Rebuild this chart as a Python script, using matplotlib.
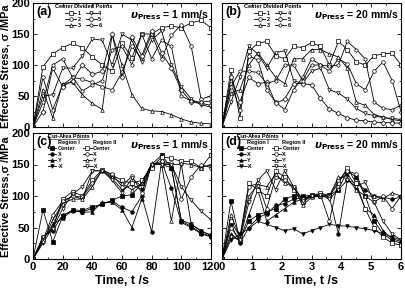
"""
Effective stress vs. time at the center divided points (top row)
and the cut-area points (bottom row), for two press speeds.
"""

import matplotlib
matplotlib.use("Agg")
import matplotlib.pyplot as plt
from matplotlib.lines import Line2D
from matplotlib.ticker import MultipleLocator

plt.rcParams["font.family"] = ["Liberation Sans", "DejaVu Sans"]
plt.rcParams["font.weight"] = "bold"

# Time grids
T_SLOW = [0, 6.7, 13.3, 20, 26.7, 33.3, 40, 46.7, 53.3, 60, 66.7, 73.3,
          80, 86.7, 93.3, 100, 106.7, 113.3, 120]
T_FAST = [0, 0.3, 0.6, 0.9, 1.2, 1.5, 1.8, 2.1, 2.4, 2.7, 3.0, 3.3, 3.6,
          3.9, 4.2, 4.5, 4.8, 5.1, 5.4, 5.7, 6.0]

# (a) center divided points, 1 mm/s
a1 = [0, 97, 118, 128, 135, 128, 113, 100, 90, 135, 112, 150, 150, 160, 163, 160, 168, 172, 160]
a2 = [0, 80, 28, 68, 80, 77, 72, 65, 60, 88, 130, 110, 150, 110, 148, 165, 130, 45, 50]
a3 = [0, 60, 15, 70, 72, 52, 38, 28, 150, 100, 52, 30, 26, 25, 20, 13, 8, 6, 5]
a4 = [0, 50, 52, 95, 95, 115, 142, 140, 100, 150, 140, 105, 140, 155, 100, 65, 45, 36, 32]
a5 = [0, 25, 95, 65, 75, 100, 85, 90, 150, 80, 145, 115, 155, 120, 95, 60, 40, 38, 35]
a6 = [0, 40, 100, 110, 80, 58, 68, 75, 125, 130, 100, 150, 110, 140, 130, 50, 42, 40, 42]

# (b) center divided points, 20 mm/s
b1 = [0, 92, 15, 122, 135, 138, 115, 110, 130, 128, 136, 130, 100, 138, 125, 105, 100, 115, 118, 119, 100]
b2 = [0, 70, 28, 115, 108, 60, 40, 28, 60, 80, 110, 100, 90, 110, 102, 70, 60, 90, 105, 75, 25]
b3 = [0, 55, 60, 100, 120, 100, 80, 70, 110, 110, 125, 125, 118, 113, 95, 40, 35, 20, 16, 12, 10]
b4 = [0, 40, 80, 130, 118, 95, 120, 123, 75, 70, 90, 95, 60, 55, 45, 30, 22, 18, 15, 14, 12]
b5 = [0, 80, 40, 80, 70, 72, 38, 45, 70, 70, 68, 46, 29, 22, 15, 11, 10, 8, 7, 7, 6]
b6 = [0, 65, 90, 90, 88, 70, 75, 100, 100, 75, 100, 100, 98, 100, 138, 125, 110, 40, 30, 28, 35]

# (c) cut-area points, 1 mm/s
c_I_center = [0, 78, 27, 68, 78, 77, 83, 87, 93, 100, 102, 120, 150, 165, 145, 60, 52, 41, 36]
c_I_x = [0, 35, 45, 70, 76, 75, 80, 88, 92, 82, 75, 100, 43, 155, 112, 58, 50, 40, 35]
c_I_y = [0, 30, 55, 65, 77, 74, 75, 90, 90, 78, 50, 95, 150, 150, 145, 62, 55, 45, 37]
c_I_negx = [0, 25, 50, 90, 100, 95, 140, 140, 128, 110, 118, 110, 150, 152, 150, 150, 55, 44, 38]
c_II_center = [0, 33, 50, 95, 107, 100, 125, 142, 133, 125, 120, 125, 145, 162, 160, 155, 155, 145, 165]
c_II_x = [0, 30, 70, 92, 100, 98, 120, 140, 135, 115, 132, 105, 150, 155, 152, 95, 130, 150, 145]
c_II_y = [0, 28, 62, 88, 95, 95, 115, 142, 130, 120, 110, 120, 152, 150, 60, 152, 150, 145, 150]
c_II_negx = [0, 35, 48, 80, 103, 115, 140, 140, 125, 105, 128, 115, 150, 150, 150, 115, 93, 76, 62]

# (d) cut-area points, 20 mm/s
d_I_center = [0, 92, 30, 60, 70, 75, 80, 95, 100, 100, 101, 102, 101, 110, 140, 130, 100, 60, 40, 30, 25]
d_I_x = [0, 55, 25, 50, 65, 72, 85, 88, 95, 97, 100, 100, 98, 40, 125, 120, 110, 100, 98, 95, 98]
d_I_y = [0, 40, 28, 70, 110, 60, 70, 80, 90, 95, 100, 100, 100, 125, 135, 115, 80, 70, 45, 32, 28]
d_I_negx = [0, 30, 40, 48, 60, 55, 50, 45, 48, 40, 45, 50, 55, 53, 52, 50, 48, 45, 40, 35, 30]
d_II_center = [0, 60, 35, 120, 110, 100, 140, 130, 110, 90, 100, 105, 100, 120, 145, 120, 80, 50, 35, 25, 22]
d_II_x = [0, 50, 30, 115, 120, 80, 130, 125, 115, 95, 100, 102, 60, 125, 140, 135, 100, 90, 100, 80, 100]
d_II_y = [0, 70, 35, 100, 118, 115, 135, 120, 115, 85, 98, 100, 100, 130, 128, 110, 100, 100, 95, 105, 100]
d_II_negx = [0, 35, 30, 90, 125, 140, 110, 140, 115, 92, 100, 102, 95, 110, 125, 115, 122, 90, 60, 40, 30]

CENTER_LABELS = ["1", "2", "3", "4", "5", "6"]
CENTER_MARKERS = ["s", "o", "^", "v", "D", "h"]
CUT_LABELS = ["Center", "X", "Y", "-X"]
CUT_MARKERS = ["s", "o", "^", "v"]

LINE_KW = dict(color="black", lw=0.6, ms=2.6, mew=0.5)
LEG_FS = 4.0


def style_axes(ax, xmax, xmajor, xminor, show_x, show_y):
    """Inward ticks on all sides, fixed limits"""
    ax.set_xlim(0, xmax)
    ax.set_ylim(0, 200)
    ax.xaxis.set_major_locator(MultipleLocator(xmajor))
    ax.xaxis.set_minor_locator(MultipleLocator(xminor))
    ax.yaxis.set_major_locator(MultipleLocator(50))
    ax.yaxis.set_minor_locator(MultipleLocator(25))
    ax.tick_params(which="both", direction="in", top=True, right=True,
                   labelsize=8, width=0.6, pad=2)
    ax.tick_params(which="major", length=3)
    ax.tick_params(which="minor", length=1.5)
    if not show_x:
        ax.set_xticklabels([])
    if not show_y:
        ax.set_yticklabels([])
    for lab in ax.get_xticklabels() + ax.get_yticklabels():
        lab.set_fontweight("bold")
    for sp in ax.spines.values():
        sp.set_linewidth(0.8)


def center_panel(ax, t, series, tag, speed):
    for vals, mk, lab in zip(series, CENTER_MARKERS, CENTER_LABELS):
        ax.plot(t, vals, marker=mk, mfc="white", mec="black", label=lab, **LINE_KW)
    leg = ax.legend(ncol=2, title="Center Divided Points", loc="upper left",
                    bbox_to_anchor=(0.1, 1.02), frameon=False, fontsize=LEG_FS,
                    title_fontsize=LEG_FS, handlelength=2.0, handletextpad=0.3,
                    columnspacing=0.8, labelspacing=0.2, borderpad=0.2)
    leg.get_title().set_fontweight("bold")
    add_tags(ax, tag, speed)


def cut_panel(ax, t, region1, region2, tag, speed):
    for vals, mk in zip(region1, CUT_MARKERS):
        ax.plot(t, vals, marker=mk, mfc="black", mec="black", **LINE_KW)
    for vals, mk in zip(region2, CUT_MARKERS):
        ax.plot(t, vals, marker=mk, mfc="white", mec="black", **LINE_KW)

    # two-column legend with region headers
    blank = Line2D([], [], lw=0)
    h1 = [blank] + [Line2D([], [], marker=m, mfc="black", mec="black", **LINE_KW)
                    for m in CUT_MARKERS]
    h2 = [blank] + [Line2D([], [], marker=m, mfc="white", mec="black", **LINE_KW)
                    for m in CUT_MARKERS]
    labels = ["Region I"] + CUT_LABELS + ["Region II"] + CUT_LABELS
    leg = ax.legend(h1 + h2, labels, ncol=2, loc="upper left",
                    title="Cut-Area Points", title_fontsize=LEG_FS,
                    bbox_to_anchor=(0.06, 1.02), frameon=False, fontsize=LEG_FS,
                    handlelength=1.6, handletextpad=0.3, columnspacing=0.5,
                    labelspacing=0.15, borderpad=0.2)
    leg.get_title().set_fontweight("bold")
    leg._legend_box.align = "left"
    add_tags(ax, tag, speed)
    return leg


def add_tags(ax, tag, speed):
    ax.text(0.02, 0.93, tag, transform=ax.transAxes, fontsize=9,
            fontweight="bold", va="center")
    ax.text(0.99, 0.90, r"$\upsilon_{\rm Press}$" + f" = {speed} mm/s",
            transform=ax.transAxes, fontsize=7.5, fontweight="bold",
            ha="right", va="center")


def underline_title(fig, leg):
    """Draw a thin underline beneath a legend title"""
    fig.canvas.draw()
    bb = leg.get_title().get_window_extent().transformed(fig.transFigure.inverted())
    fig.add_artist(Line2D([bb.x0, bb.x1], [bb.y0, bb.y0], lw=0.4,
                          color="black", transform=fig.transFigure))


def main():
    fig = plt.figure(figsize=(4.05, 2.88), dpi=100)
    W, H = 405.0, 288.0

    def box(x0, x1, y0, y1):
        return [x0 / W, 1 - y1 / H, (x1 - x0) / W, (y1 - y0) / H]

    ax_a = fig.add_axes(box(33, 211, 3, 127))
    ax_b = fig.add_axes(box(222, 401, 3, 127))
    ax_c = fig.add_axes(box(33, 211, 133, 259))
    ax_d = fig.add_axes(box(222, 401, 133, 259))

    center_panel(ax_a, T_SLOW, [a1, a2, a3, a4, a5, a6], "(a)", 1)
    center_panel(ax_b, T_FAST, [b1, b2, b3, b4, b5, b6], "(b)", 20)
    leg_c = cut_panel(ax_c, T_SLOW, [c_I_center, c_I_x, c_I_y, c_I_negx],
                      [c_II_center, c_II_x, c_II_y, c_II_negx], "(c)", 1)
    leg_d = cut_panel(ax_d, T_FAST, [d_I_center, d_I_x, d_I_y, d_I_negx],
                      [d_II_center, d_II_x, d_II_y, d_II_negx], "(d)", 20)

    style_axes(ax_a, 120, 20, 10, False, True)
    style_axes(ax_b, 6, 1, 0.5, False, False)
    style_axes(ax_c, 120, 20, 10, True, True)
    style_axes(ax_d, 6, 1, 0.5, True, False)

    fig.text(6 / W, 1 - 66 / H, "Effective Stress, σ /MPa", rotation=90,
             fontsize=7.8, fontweight="bold", ha="center", va="center")
    fig.text(6 / W, 1 - 197 / H, "Effective Stress,σ /MPa", rotation=90,
             fontsize=7.8, fontweight="bold", ha="center", va="center")
    fig.text(122 / W, 1 - 281 / H, "Time, t /s", fontsize=9,
             fontweight="bold", ha="center", va="center")
    fig.text(311 / W, 1 - 281 / H, "Time, t /s", fontsize=9,
             fontweight="bold", ha="center", va="center")

    underline_title(fig, leg_c)
    underline_title(fig, leg_d)

    fig.savefig("out.png", dpi=100)


if __name__ == "__main__":
    main()
